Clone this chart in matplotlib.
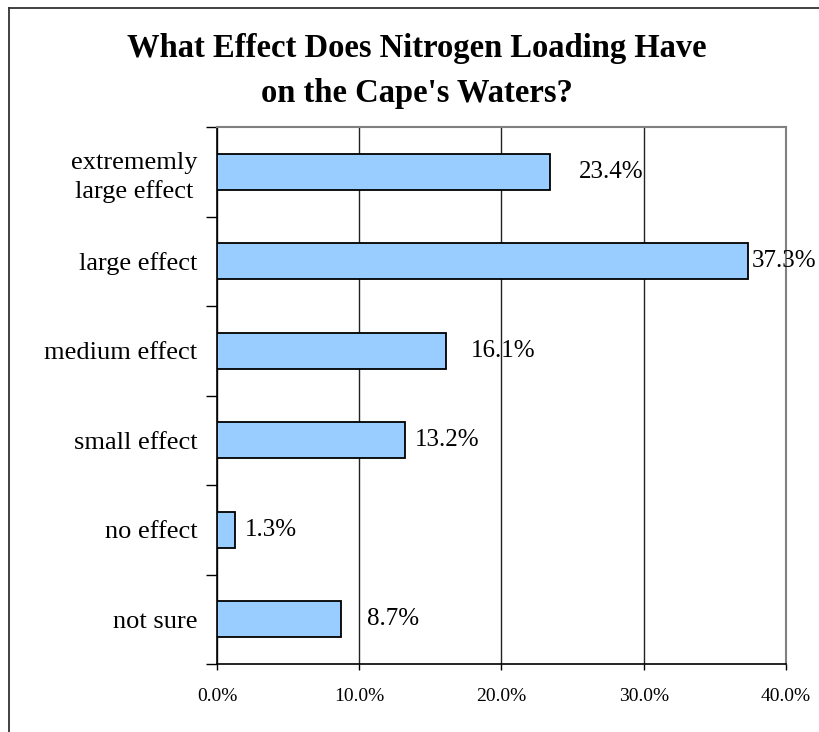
import matplotlib.pyplot as plt
from matplotlib.lines import Line2D
from matplotlib.ticker import FuncFormatter

plt.rcParams['font.family'] = ['Liberation Serif', 'DejaVu Serif']

# 資料
categories = ['extrememly\nlarge effect', 'large effect', 'medium effect',
              'small effect', 'no effect', 'not sure']
percents = [23.4, 37.3, 16.1, 13.2, 1.3, 8.7]
x_ticks = [0, 10, 20, 30, 40]

# 數值標籤與長條末端的距離 (points)，照原圖
label_pad = [21, 3, 18, 7, 6.5, 19]

fig = plt.figure(figsize=(8.2, 7.32), dpi=100)
ax = fig.add_axes([217 / 820, 1 - 664 / 732, 569 / 820, 537 / 732])

# 外框 (左、上)
fig.add_artist(Line2D([9 / 820, 9 / 820], [0, 1 - 8 / 732], transform=fig.transFigure,
                      color='#333333', lw=1.3))
fig.add_artist(Line2D([9 / 820, 1], [1 - 8 / 732, 1 - 8 / 732], transform=fig.transFigure,
                      color='#333333', lw=1.3))

ypos = list(range(len(categories)))
ax.barh(ypos, percents, height=0.4, color='#99CCFF', edgecolor='black', linewidth=1.3, zorder=3)

ax.set_xlim(0, 40)
ax.set_ylim(len(categories) - 0.5, -0.5)
ax.set_xticks(x_ticks)
ax.xaxis.set_major_formatter(FuncFormatter(lambda v, p: f'{v:.1f}%'))
ax.tick_params(axis='x', labelsize=14, length=4, width=1, direction='out', pad=13)

# 類別標籤
ax.set_yticks(ypos)
ax.set_yticklabels(categories, fontsize=19, multialignment='center', linespacing=1.35)
ax.tick_params(axis='y', which='major', length=0, pad=14)
ax.set_yticks([i - 0.5 for i in range(len(categories) + 1)], minor=True)
ax.tick_params(axis='y', which='minor', length=8, width=1, direction='out')

# 格線
ax.xaxis.grid(True, color='#222222', linewidth=1)
ax.set_axisbelow(True)

for side in ['top', 'right']:
    ax.spines[side].set_color('#808080')
    ax.spines[side].set_linewidth(1.5)
for side in ['left', 'bottom']:
    ax.spines[side].set_color('black')
    ax.spines[side].set_linewidth(1.2)

# 數值標籤
for y, v, pad in zip(ypos, percents, label_pad):
    ax.annotate(f'{v:.1f}%', xy=(v, y), xytext=(pad, 0), textcoords='offset points',
                va='center', ha='left', fontsize=18, zorder=4)

fig.text(417 / 820, 1 - 71 / 732, "What Effect Does Nitrogen Loading Have\non the Cape's Waters?",
         ha='center', va='center', fontsize=23.5, fontweight='bold', linespacing=1.55)

fig.savefig('out.png', dpi=100)
